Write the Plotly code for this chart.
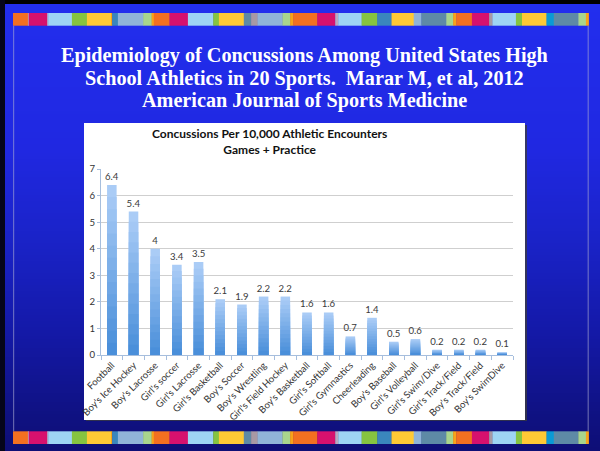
import plotly.graph_objects as go

# ---- data -------------------------------------------------------------
sports = [
    "Football", "Boy's Ice Hockey", "Boy's Lacrosse", "Girl's soccer",
    "Girl's Lacrosse", "Girl's Basketball", "Boy's Soccer", "Boy's Wrestling",
    "Girl's Field Hockey", "Boy's Basketball", "Girl's Softball",
    "Girl's Gymnastics", "Cheerleading", "Boy's Baseball", "Girl's Volleyball",
    "Girl's Swim/Dive", "Girl's Track/Field", "Boy's Track/Field", "Boy's SwimDive",
]
rates = [6.4, 5.4, 4, 3.4, 3.5, 2.1, 1.9, 2.2, 2.2, 1.6, 1.6,
         0.7, 1.4, 0.5, 0.6, 0.2, 0.2, 0.2, 0.1]
y_ticks = [0, 1, 2, 3, 4, 5, 6, 7]

chart_title = "Concussions Per 10,000 Athletic Encounters<br>Games + Practice"
slide_title = ["Epidemiology of Concussions Among United States High",
               "School Athletics in 20 Sports.  Marar M, et al, 2012",
               "American Journal of Sports Medicine"]

# ---- page geometry (pixels) --------------------------------------------
W, H = 600, 451
ML, MR, MT, MB = 101, 87, 169, 96
PW, PH = W - ML - MR, H - MT - MB


def px(x):
    return (x - ML) / PW


def py(y):
    return 1 - (y - MT) / PH


shapes = []


def rect(x0, y0, x1, y1, color):
    shapes.append(dict(type="rect", xref="paper", yref="paper", layer="below",
                       x0=px(x0), x1=px(x1), y0=py(y1), y1=py(y0),
                       fillcolor=color, line=dict(width=0)))


# vertical blue gradient background
stops = [(0, (34, 46, 238)), (150, (32, 40, 225)), (240, (26, 35, 200)),
         (330, (20, 25, 168)), (420, (15, 17, 128)), (451, (14, 14, 118))]


def bg_color(y):
    for (ya, ca), (yb, cb) in zip(stops[:-1], stops[1:]):
        if ya <= y <= yb:
            t = (y - ya) / (yb - ya)
            return "rgb(%d,%d,%d)" % tuple(round(a + (b - a) * t) for a, b in zip(ca, cb))
    return "rgb(14,14,118)"


step = 3
for y0 in range(0, H, step):
    rect(-1, y0, W + 1, y0 + step + 0.5, bg_color(y0 + step / 2))

# dark slide border
rect(-1, -1, W + 1, 4, "#000000")
rect(-1, -1, 5, H + 1, "#05051a")

# coloured tile strips
ORA, MAG, LBL, GRN, YEL = "#F37021", "#D6116E", "#9ED4F4", "#86C440", "#FFC935"
BLU, STL, LGR, YO, SLT = "#3A86BD", "#90B4D8", "#A9D58D", "#F8A31A", "#5E8AA6"
MAU, GRY, CYN = "#A899A4", "#B8A8C0", "#0A9AD5"
tile_edges = [13.0, 27.9, 28.7, 47.1, 48.2, 71.9, 86.9, 111.0, 112.1, 117.9,
              143.1, 151.6, 153.8, 169.5, 187.9, 213.2, 218.9, 243.8, 251.1,
              257.6, 282.4, 290.1, 293.1, 317.3, 335.2, 338.3, 361.6, 377.3,
              391.5, 413.7, 421.4, 446.2, 453.1, 456.2, 471.9, 489.1, 492.5,
              515.9, 522.0, 546.5, 553.8, 578.3, 585.9, 588.6]
tile_colors = [ORA, GRY, MAG, GRY, LBL, GRN, YEL, YO, BLU, STL, LGR, YO, ORA,
               MAG, LBL, GRN, YEL, SLT, MAU, STL, LGR, YO, ORA, MAG, GRY, LBL,
               GRN, BLU, YEL, STL, SLT, LGR, YO, ORA, MAG, MAU, LBL, GRN, YEL,
               CYN, SLT, LGR, YO]
for ys, ye in [(13, 25.7), (431.3, 444)]:
    for x0, x1, c in zip(tile_edges[:-1], tile_edges[1:], tile_colors):
        rect(x0, ys, x1 + 0.3, ye, c)

# faint slide frame lines
rect(13, 25.7, 14.2, 431.3, "rgba(170,170,210,0.55)")
rect(587.6, 25.7, 588.8, 431.3, "rgba(170,170,210,0.55)")

# white chart panel with a soft shadow
rect(86, 125, 527, 421, "rgba(60,60,60,0.75)")
rect(84, 123, 525, 420, "#FFFFFF")

# ---- bars: overlaid layers give a light-top / dark-bottom gradient -----
top_rgb, bot_rgb = (170, 204, 246), (74, 143, 218)
N = 14
traces = []
for k in range(N):
    frac = (N - k) / N
    t = k / (N - 1)
    col = "rgb(%d,%d,%d)" % tuple(round(a + (b - a) * t) for a, b in zip(top_rgb, bot_rgb))
    traces.append(go.Bar(
        x=sports, y=[v * frac for v in rates], width=0.44,
        marker=dict(color=col, line=dict(width=0)),
        text=[str(v) for v in rates] if k == 0 else None,
        textposition="outside" if k == 0 else "none",
        constraintext="none",
        textfont=dict(family="Lato, Open Sans, sans-serif", size=9.6, color="#3A3A3A"),
        cliponaxis=False, hoverinfo="skip", showlegend=False,
    ))

fig = go.Figure(traces)

annotations = [dict(
    xref="paper", yref="paper", x=px(269), y=py(141.5), xanchor="center", yanchor="middle",
    text="<b>" + chart_title + "</b>", showarrow=False, align="center",
    font=dict(family="Lato, Open Sans, sans-serif", size=12, color="#111111"),
)]
for i, line in enumerate(slide_title):
    annotations.append(dict(
        xref="paper", yref="paper", x=px(304), y=py(55 + 23 * i),
        xanchor="center", yanchor="middle", text="<b>" + line + "</b>",
        showarrow=False,
        font=dict(family="Liberation Serif, Times New Roman, serif", size=20.2, color="#FFFFFF"),
    ))

fig.update_layout(
    width=W, height=H, barmode="overlay", bargap=0.56,
    margin=dict(l=ML, r=MR, t=MT, b=MB, pad=0),
    paper_bgcolor="#0E0E76", plot_bgcolor="rgba(0,0,0,0)",
    shapes=shapes, annotations=annotations,
    xaxis=dict(
        type="category", tickangle=-45, showgrid=False,
        showline=True, linecolor="#A6BEDD", linewidth=1,
        ticks="outside", tickson="boundaries", ticklen=4, tickcolor="#A6BEDD",
        tickfont=dict(family="Lato, Open Sans, sans-serif", size=9.6, color="#333333"),
        fixedrange=True,
    ),
    yaxis=dict(
        range=[0, 7], tickvals=y_ticks, showgrid=True, gridcolor="#CFCFCF", gridwidth=1,
        zeroline=False, showline=True, linecolor="#A6BEDD", linewidth=1,
        ticks="outside", ticklen=3, tickcolor="#A6BEDD",
        tickfont=dict(family="Lato, Open Sans, sans-serif", size=9.6, color="#333333"),
        fixedrange=True,
    ),
    font=dict(family="Lato, sans-serif"),
)

fig.write_html("out.html", config=dict(displayModeBar=False))
